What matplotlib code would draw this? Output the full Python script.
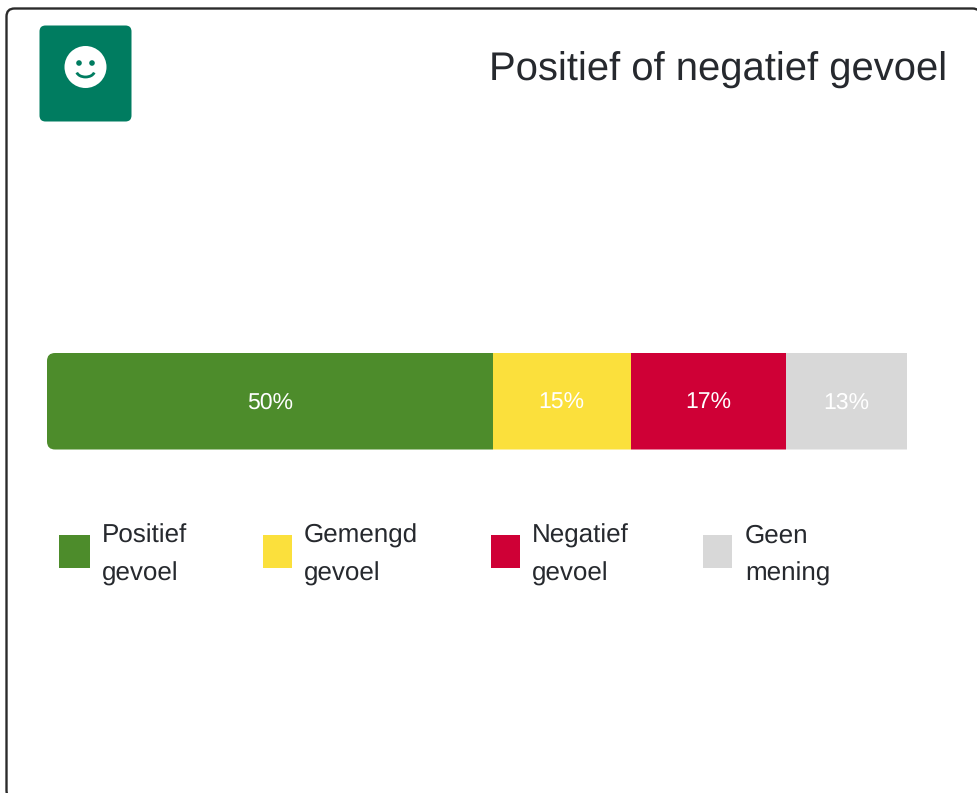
import matplotlib
matplotlib.use("Agg")
import matplotlib.pyplot as plt
from matplotlib.patches import FancyBboxPatch, Rectangle, Circle, Arc
from matplotlib.transforms import offset_copy

plt.rcParams['font.family'] = ['Liberation Sans', 'DejaVu Sans']
plt.rcParams['text.hinting'] = 'no_hinting'
plt.rcParams['text.hinting_factor'] = 1

W, H = 978, 793
title = "Positief of negatief gevoel"
categories = ["Positief\ngevoel", "Gemengd\ngevoel", "Negatief\ngevoel", "Geen\nmening"]
values = [50, 15.5, 17.4, 13.6]
labels = ["50%", "15%", "17%", "13%"]
colors = ["#4d8c2b", "#fbe03c", "#cf0036", "#d8d8d8"]
legend_x = [59, 263, 491, 703]
legend_w = [31, 29, 29, 29]
text_x = [102, 304, 532, 745]

fig = plt.figure(figsize=(W / 100, H / 100), dpi=100, facecolor="white")
bg = fig.add_axes([0, 0, 1, 1])
bg.set_xlim(0, W)
bg.set_ylim(H, 0)
bg.axis("off")

# Card frame
bg.add_patch(FancyBboxPatch((6.5, 8.5), 974, 790, boxstyle="round,pad=0,rounding_size=8",
                            fc="white", ec="#2b2b2b", lw=1.7))
# Icon
bg.add_patch(FancyBboxPatch((39.5, 25.5), 92, 96, boxstyle="round,pad=0,rounding_size=6",
                            fc="#007c60", ec="none"))
bg.add_patch(Circle((85.5, 67), 21, fc="white", ec="none"))
bg.add_patch(Circle((79, 63), 2.8, fc="#007c60", ec="none"))
bg.add_patch(Circle((92, 63), 2.8, fc="#007c60", ec="none"))
bg.add_patch(Arc((85.5, 71), 18, 12, theta1=10, theta2=170, ec="#007c60", lw=2))

bg.text(947, 80.5, title, ha="right", va="baseline", fontsize=28.6, color="#26292e")

# Stacked bar
ax = fig.add_axes([47 / W, 1 - 449.5 / H, 860 / W, 96.5 / H])
ax.set_xlim(0, sum(values))
ax.set_ylim(0, 1)
ax.axis("off")
clip = FancyBboxPatch((47, 353), 900, 96.5, boxstyle="round,pad=0,rounding_size=8",
                      transform=bg.transData, fc="none", ec="none")
bg.add_patch(clip)
label_tr = offset_copy(ax.transData, fig=fig, y=-7.5, units="dots")
left = 0
for v, c, lab in zip(values, colors, labels):
    bar = ax.barh(0.5, v, left=left, height=1, color=c, linewidth=0)[0]
    bar.set_clip_path(clip)
    ax.text(left + v / 2, 0.5, lab, ha="center", va="baseline", fontsize=16.5,
            color="white", transform=label_tr)
    left += v

# Legend
for x, w, tx, cat, c in zip(legend_x, legend_w, text_x, categories, colors):
    bg.add_patch(Rectangle((x, 535.3), w, 33, fc=c, ec="none"))
    l1, l2 = cat.split("\n")
    bg.text(tx, 542.5, l1, ha="left", va="baseline", fontsize=18.4, color="#26292e")
    bg.text(tx, 580.5, l2, ha="left", va="baseline", fontsize=18.4, color="#26292e")

fig.savefig("out.png", dpi=100)
